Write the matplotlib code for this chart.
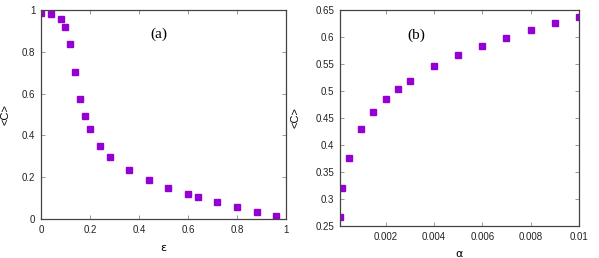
import numpy as np
import matplotlib.pyplot as plt

# panel (a): <C> vs epsilon
eps = [0.0, 0.04, 0.08, 0.1, 0.12, 0.14, 0.16, 0.18, 0.2, 0.24, 0.28,
       0.36, 0.44, 0.52, 0.6, 0.64, 0.72, 0.8, 0.88, 0.96]
c_eps = [0.987, 0.981, 0.957, 0.919, 0.836, 0.702, 0.574, 0.491, 0.431, 0.351, 0.298,
         0.233, 0.188, 0.150, 0.120, 0.107, 0.080, 0.057, 0.035, 0.013]

# panel (b): <C> vs alpha
alpha = [0.0001, 0.0002, 0.0005, 0.001, 0.0015, 0.002, 0.0025, 0.003,
         0.004, 0.005, 0.006, 0.007, 0.008, 0.009, 0.01]
c_alpha = [0.267, 0.320, 0.376, 0.430, 0.461, 0.485, 0.504, 0.519,
           0.546, 0.566, 0.584, 0.599, 0.613, 0.626, 0.637]

a_xticks = [0, 0.2, 0.4, 0.6, 0.8, 1]
a_xlabels = ['0', '0.2', '0.4', '0.6', '0.8', '1']
a_yticks = [0, 0.2, 0.4, 0.6, 0.8, 1]
a_ylabels = ['0', '0.2', '0.4', '0.6', '0.8', '1']
b_xticks = [0.002, 0.004, 0.006, 0.008, 0.01]
b_xlabels = ['0.002', '0.004', '0.006', '0.008', '0.01']
b_yticks = [0.25, 0.3, 0.35, 0.4, 0.45, 0.5, 0.55, 0.6, 0.65]
b_ylabels = ['0.25', '0.3', '0.35', '0.4', '0.45', '0.5', '0.55', '0.6', '0.65']

purple = '#9400D3'

fig = plt.figure(figsize=(5.99, 2.58), dpi=100)
axa = fig.add_axes([0.0684, 0.151, 0.4091, 0.810])
axb = fig.add_axes([0.567, 0.124, 0.3996, 0.837])

def style(ax):
    for s in ax.spines.values():
        s.set_color('#444444')
        s.set_linewidth(0.9)
    ax.tick_params(direction='in', top=True, right=True, length=3,
                   width=0.6, colors='#888888', labelcolor='#222222', pad=4)
    for lab in ax.get_xticklabels() + ax.get_yticklabels():
        lab.set_fontfamily('Liberation Sans')
        lab.set_fontsize(7)

axa.plot(eps, c_eps, 's', color=purple, ms=3.8, mec=purple)
axa.set_xlim(0, 1)
axa.set_ylim(0, 1)
axa.set_xticks(a_xticks, a_xlabels)
axa.set_yticks(a_yticks, a_ylabels)
style(axa)
axa.set_xlabel('ε', fontsize=8, family='DejaVu Sans', labelpad=6)
axa.set_ylabel('<C>', fontsize=8, family='Liberation Sans')
axa.yaxis.set_label_coords(-0.125, 0.5)
axa.text(0.48, 0.885, '(a)', transform=axa.transAxes, ha='center', va='center',
         fontsize=11, family='Liberation Serif')

axb.plot(alpha, c_alpha, 's', color=purple, ms=3.8, mec=purple)
axb.set_xlim(0.0001, 0.01)
axb.set_ylim(0.25, 0.65)
axb.set_xticks(b_xticks, b_xlabels)
axb.set_yticks(b_yticks, b_ylabels)
style(axb)
axb.set_xlabel('α', fontsize=8, family='DejaVu Sans', labelpad=5)
axb.set_ylabel('<C>', fontsize=8, family='Liberation Sans')
axb.yaxis.set_label_coords(-0.165, 0.5)
axb.text(0.32, 0.885, '(b)', transform=axb.transAxes, ha='center', va='center',
         fontsize=11, family='Liberation Serif')

fig.savefig('out.png', dpi=100)
